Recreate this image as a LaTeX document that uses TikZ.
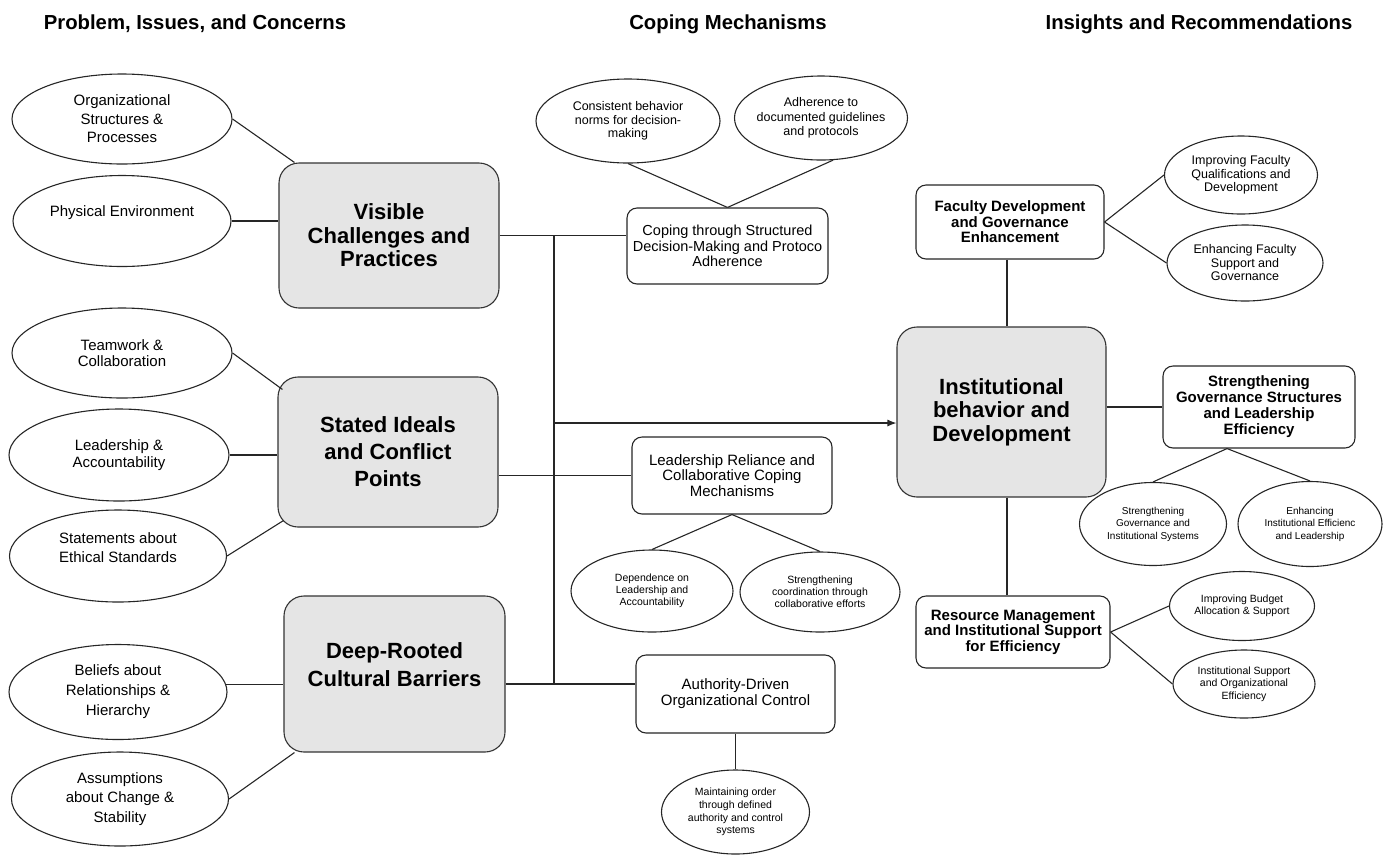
\documentclass[tikz,border=0pt]{standalone}
\usepackage{fontspec}
\setmainfont{Liberation Sans}
\usetikzlibrary{arrows.meta,calc,shapes.geometric}
\begin{document}
\begin{tikzpicture}[x=1pt,y=-1pt,
  conn/.style={draw=black!85, line width=1.1pt},
  mainbox/.style={draw=black!80, line width=1.1pt, fill=black!10, rounded corners=20pt, inner sep=0pt, align=center, font=\fontsize{22}{23.5}\selectfont\bfseries},
  subbox/.style={draw=black!85, line width=1.1pt, fill=white, rounded corners=10pt, inner sep=0pt, align=center},
  oval/.style={draw=black!85, line width=1.1pt, fill=white, ellipse, inner sep=0pt, align=center},
  hdr/.style={font=\fontsize{20.3}{24}\selectfont\bfseries},
  rbold/.style={font=\fontsize{15}{15.5}\selectfont\bfseries},
]
\useasboundingbox (0,0) rectangle (1389,855);

% headers
\node[hdr] (h1) at (195,24) {Problem, Issues, and Concerns};
\node[hdr] (h2) at (728,24) {Coping Mechanisms};
\node[hdr] (h3) at (1199,24) {Insights and Recommendations};

% main boxes
\node[mainbox, minimum width=220pt, minimum height=145pt] (V) at (389,235.5) {Visible\\Challenges and\\Practices};
\node[mainbox, font=\fontsize{22}{27}\selectfont\bfseries, minimum width=220pt, minimum height=150pt] (S) at (388,452) {Stated Ideals\\and Conflict\\Points};
\node[mainbox, minimum width=221pt, minimum height=156pt] (D) at (394.5,674) {};
\node[font=\fontsize{22}{28}\selectfont\bfseries, align=center] (Dt) at (394.5,665) {Deep-Rooted\\Cultural Barriers};
\node[mainbox, minimum width=209pt, minimum height=170pt] (I) at (1001.5,412) {Institutional\\behavior and\\Development};

% left ellipses
\node[oval, font=\fontsize{15}{18.5}\selectfont, minimum width=220pt, minimum height=90pt] (e1) at (122,119) {Organizational\\Structures \&\\Processes};
\node[oval, minimum width=218pt, minimum height=91pt] (e2) at (122,221) {};
\node[font=\fontsize{15}{18.5}\selectfont] (e2t) at (122,213) {Physical Environment};
\node[oval, font=\fontsize{15}{16.5}\selectfont, minimum width=220pt, minimum height=90pt] (e3) at (122,353) {Teamwork \&\\Collaboration};
\node[oval, font=\fontsize{15}{17}\selectfont, minimum width=220pt, minimum height=92pt] (e4) at (119,455) {Leadership \&\\Accountability};
\node[oval, minimum width=217pt, minimum height=92pt] (e5) at (118,556) {};
\node[font=\fontsize{15}{19}\selectfont, align=center] (e5t) at (118,547.5) {Statements about\\Ethical Standards};
\node[oval, font=\fontsize{15}{20}\selectfont, minimum width=218pt, minimum height=95pt] (e6) at (118,692) {Beliefs about\\Relationships \&\\Hierarchy};
\node[oval, font=\fontsize{15}{19.5}\selectfont, minimum width=217pt, minimum height=94pt] (e7) at (120,799) {Assumptions\\about Change \&\\Stability};

% coping mechanisms
\node[oval, font=\fontsize{12.5}{13.5}\selectfont, minimum width=184pt, minimum height=84pt] (c1a) at (628,121) {Consistent behavior\\norms for decision-\\making};
\node[oval, font=\fontsize{12.5}{14.5}\selectfont, inner xsep=-6pt, minimum width=173pt, minimum height=84pt] (c1b) at (821,118) {Adherence to\\documented guidelines\\and protocols};
\node[subbox, font=\fontsize{14.5}{15.5}\selectfont, minimum width=201pt, minimum height=76pt] (C1) at (727.5,246) {Coping through Structured\\Decision-Making and Protoco\\Adherence};
\node[subbox, font=\fontsize{15}{15.5}\selectfont, minimum width=200pt, minimum height=77pt] (C2) at (732,475.5) {Leadership Reliance and\\Collaborative Coping\\Mechanisms};
\node[oval, font=\fontsize{10.5}{12}\selectfont, minimum width=162pt, minimum height=82pt] (c2a) at (652,591) {Dependence on\\Leadership and\\Accountability};
\node[oval, font=\fontsize{10.5}{12}\selectfont, minimum width=160pt, minimum height=80pt] (c2b) at (820,592) {Strengthening\\coordination through\\collaborative efforts};
\node[subbox, font=\fontsize{15}{16}\selectfont, minimum width=199pt, minimum height=78pt] (C3) at (735.5,694) {Authority-Driven\\Organizational Control};
\node[oval, font=\fontsize{10.5}{12.7}\selectfont, minimum width=148pt, minimum height=84pt] (c3a) at (735.5,812) {Maintaining order\\through defined\\authority and control\\systems};

% insights
\node[subbox, rbold, minimum width=188pt, minimum height=74pt] (R1) at (1010,222) {Faculty Development\\and Governance\\Enhancement};
\node[subbox, font=\fontsize{15}{16}\selectfont\bfseries, minimum width=192pt, minimum height=82pt] (R2) at (1259,407) {Strengthening\\Governance Structures\\and Leadership\\Efficiency};
\node[subbox, rbold, minimum width=194pt, minimum height=72pt] (R3) at (1013,632) {Resource Management\\and Institutional Support\\for Efficiency};
\node[oval, font=\fontsize{12.5}{13.5}\selectfont, minimum width=153pt, minimum height=78pt] (r1a) at (1241,175) {Improving Faculty\\Qualifications and\\Development};
\node[oval, font=\fontsize{12.5}{13.5}\selectfont, minimum width=156pt, minimum height=76pt] (r1b) at (1245,263) {Enhancing Faculty\\Support and\\Governance};
\node[oval, font=\fontsize{10}{12.5}\selectfont, minimum width=147pt, minimum height=83pt] (r2a) at (1153,524) {Strengthening\\Governance and\\Institutional Systems};
\node[oval, font=\fontsize{10}{12.5}\selectfont, minimum width=144pt, minimum height=85pt] (r2b) at (1310,524) {Enhancing\\Institutional Efficienc\\and Leadership};
\node[oval, font=\fontsize{10.5}{12.5}\selectfont, minimum width=145pt, minimum height=69pt] (r3a) at (1242,606) {Improving Budget\\Allocation \& Support};
\node[oval, font=\fontsize{10.5}{12.5}\selectfont, minimum width=142pt, minimum height=68pt] (r3b) at (1244,684) {Institutional Support\\and Organizational\\Efficiency};

% connectors: left
\draw[conn] (e1.east) -- ($(V.north west)+(16,0)$);
\draw[conn] (e2.east) -- (e2.east -| V.west);
\draw[conn] (e3.east) -- ($(S.north west)+(5,13)$);
\draw[conn] (e4.east) -- (e4.east -| S.west);
\draw[conn] (e5.east) -- ($(S.south west)+(6,-7)$);
\draw[conn] (e6.4) -- (e6.4 -| D.west);
\draw[conn] (e7.east) -- ($(D.south west)+(11,0)$);

% bus
\coordinate (yD) at (0,684);
\coordinate (bx) at (554,0);
\coordinate (ya) at (0,423);
\draw[conn] (V.east) -- (V.east -| C1.west);
\draw[conn] (bx |- V.east) -- (bx |- yD);
\draw[conn] (D.east |- yD) -- (C3.west |- yD);
\draw[conn] (S.east |- C2.west) -- (C2.west);
\draw[conn, -{Latex[length=9pt,width=7pt]}] (bx |- ya) -- (I.west |- ya);

% coping sub-connectors
\draw[conn] (c1a.south) -- (C1.north);
\draw[conn] (c1b.-74) -- (C1.north);
\draw[conn] (C2.south) -- (c2a.north);
\draw[conn] (C2.south) -- (c2b.north);
\draw[conn] (C3.south) -- (c3a.north);

% insights connectors
\coordinate (vx) at (1007,0);
\draw[conn] (R1.east) -- (r1a.west);
\draw[conn] (R1.east) -- (r1b.west);
\draw[conn] (vx |- R1.south) -- (vx |- I.north);
\draw[conn] (vx |- I.south) -- (vx |- R3.north);
\draw[conn] (I.east |- R2.west) -- (R2.west);
\coordinate (r2j) at ($(R2.south)+(-32,0)$);
\draw[conn] (r2j) -- (r2a.north);
\draw[conn] (r2j) -- (r2b.north);
\draw[conn] (R3.east) -- (r3a.west);
\draw[conn] (R3.east) -- (r3b.west);
\end{tikzpicture}
\end{document}
